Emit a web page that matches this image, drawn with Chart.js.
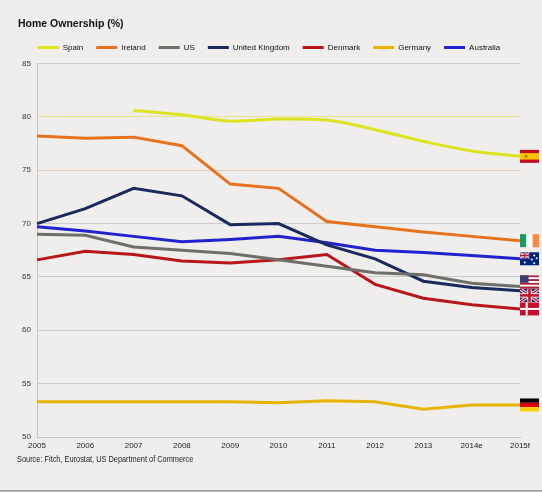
<!DOCTYPE html>
<html>
<head>
<meta charset="utf-8">
<script src="https://cdn.jsdelivr.net/npm/chart.js@4/dist/chart.umd.min.js"></script>
<style>
  html, body { margin: 0; padding: 0; background: #efeeec; }
  #wrap { position: relative; width: 542px; height: 493px; }
</style>
</head>
<body>
<div id="wrap"><canvas id="c"></canvas></div>
<script>
// ---- data ----
const categories = ['2005','2006','2007','2008','2009','2010','2011','2012','2013','2014e','2015f'];
const seriesNames = ['Spain','Ireland','US','United Kingdom','Denmark','Germany','Australia'];
const spain     = [null, null, 80.6, 80.2, 79.6, 79.8, 79.7, 78.8, 77.7, 76.8, 76.3];
const ireland   = [78.2, 78.0, 78.1, 77.3, 73.7, 73.3, 70.2, 69.7, 69.2, 68.8, 68.4];
const us        = [69.0, 68.9, 67.8, 67.5, 67.2, 66.6, 66.0, 65.4, 65.2, 64.4, 64.1];
const uk        = [70.0, 71.4, 73.3, 72.6, 69.9, 70.0, 68.0, 66.7, 64.6, 64.0, 63.7];
const denmark   = [66.6, 67.4, 67.1, 66.5, 66.3, 66.6, 67.1, 64.3, 63.0, 62.4, 62.0];
const germany   = [53.3, 53.3, 53.3, 53.3, 53.3, 53.2, 53.4, 53.3, 52.6, 53.0, 53.0];
const australia = [69.7, 69.3, 68.8, 68.3, 68.5, 68.8, 68.2, 67.5, 67.3, 67.0, 66.7];
const yTicks = [50, 55, 60, 65, 70, 75, 80, 85];
const titleText = 'Home Ownership (%)';
const sourceText = 'Source: Fitch, Eurostat, US Department of Commerce';

// ---- styles ----
const FONT = "'Liberation Sans', Arial, Helvetica, sans-serif";
const colors = ['#dde31c', '#e8711c', '#6e6e6a', '#1b2a5c', '#b8161b', '#e8b400', '#2222d0'];
const flagKinds = ['es', 'ie', 'us', 'gb', 'dk', 'de', 'au'];
const seriesData = [spain, ireland, us, uk, denmark, germany, australia];

function drawFlag(ctx, kind, x, y, w, h) {
  ctx.save();
  const r = (c, a, b, cw, ch) => { ctx.fillStyle = c; ctx.fillRect(a, b, cw, ch); };
  if (kind === 'es') {
    r('#c60b1e', x, y, w, h);
    r('#ffc400', x, y + h / 4, w, h / 2);
    r('#b5651d', x + w * 0.25, y + h * 0.4, 2.5, 2.5);
  } else if (kind === 'ie') {
    r('#169b62', x, y, w / 3, h);
    r('#ffffff', x + w / 3, y, w / 3, h);
    r('#ff883e', x + 2 * w / 3, y, w / 3, h);
  } else if (kind === 'de') {
    r('#000000', x, y, w, h / 3);
    r('#dd0000', x, y + h / 3, w, h / 3);
    r('#ffce00', x, y + 2 * h / 3, w, h / 3);
  } else if (kind === 'dk') {
    r('#c8102e', x, y, w, h);
    r('#ffffff', x + w * 0.3, y, 2, h);
    r('#ffffff', x, y + h / 2 - 1, w, 2);
  } else if (kind === 'us') {
    for (let i = 0; i < 7; i++) r(i % 2 ? '#ffffff' : '#b22234', x, y + i * h / 7, w, h / 7 + 0.3);
    r('#3c3b6e', x, y, w * 0.45, h * 4 / 7);
  } else if (kind === 'gb' || kind === 'au') {
    const uw = kind === 'gb' ? w : w / 2, uh = kind === 'gb' ? h : h / 2;
    r(kind === 'gb' ? '#012169' : '#00247d', x, y, w, h);
    ctx.save();
    ctx.beginPath(); ctx.rect(x, y, uw, uh); ctx.clip();
    ctx.strokeStyle = '#ffffff'; ctx.lineWidth = uh / 4;
    ctx.beginPath(); ctx.moveTo(x, y); ctx.lineTo(x + uw, y + uh); ctx.moveTo(x + uw, y); ctx.lineTo(x, y + uh); ctx.stroke();
    ctx.strokeStyle = '#c8102e'; ctx.lineWidth = uh / 9;
    ctx.stroke();
    r('#ffffff', x + uw / 2 - uh / 6, y, uh / 3, uh);
    r('#ffffff', x, y + uh / 2 - uh / 6, uw, uh / 3);
    r('#c8102e', x + uw / 2 - uh / 10, y, uh / 5, uh);
    r('#c8102e', x, y + uh / 2 - uh / 10, uw, uh / 5);
    ctx.restore();
    if (kind === 'au') {
      ctx.fillStyle = '#ffffff';
      [[0.25, 0.78], [0.75, 0.25], [0.62, 0.55], [0.88, 0.45], [0.75, 0.85]].forEach(p => {
        ctx.beginPath(); ctx.arc(x + p[0] * w, y + p[1] * h, 1, 0, Math.PI * 2); ctx.fill();
      });
    }
  }
  ctx.restore();
}

const decorPlugin = {
  id: 'decor',
  beforeLayout(chart) {
    const lg = chart.legend;
    if (lg && !lg._patched) {
      const orig = lg.fit;
      lg.fit = function () { orig.call(this); this.height += 2; };
      lg._patched = true;
    }
  },
  afterDatasetsDraw(chart) {
    const ctx = chart.ctx;
    const ys = chart.scales.y, xs = chart.scales.x;
    const last = categories.length - 1;
    const fw = 19, fh = 13, gap = 13.5;
    let items = seriesData.map((d, i) => ({ kind: flagKinds[i], y: ys.getPixelForValue(d[last]) }));
    items.sort((a, b) => a.y - b.y);
    for (let it = 0; it < 30; it++) {
      for (let i = 0; i < items.length - 1; i++) {
        const d = items[i + 1].y - items[i].y;
        if (d < gap) { const m = (gap - d) / 2; items[i].y -= m; items[i + 1].y += m; }
      }
    }
    const px = xs.getPixelForValue(last);
    items.forEach(it => drawFlag(ctx, it.kind, px, it.y - fh / 2, fw, fh));
  },
  afterDraw(chart) {
    const ctx = chart.ctx;
    ctx.save();
    ctx.fillStyle = '#111111';
    ctx.textBaseline = 'middle';
    ctx.textAlign = 'left';
    ctx.font = "bold 10.5px " + FONT;
    ctx.fillText(titleText, 18, 24);
    ctx.fillStyle = '#222222';
    ctx.font = "9px " + FONT;
    ctx.translate(17, 460);
    ctx.scale(0.82, 1);
    ctx.fillText(sourceText, 0, 0);
    ctx.restore();
    ctx.save();
    ctx.fillStyle = '#9a9a9a';
    ctx.fillRect(0, 490, chart.width, 1.5);
    ctx.restore();
  }
};

const datasets = seriesNames.map((name, i) => ({
  label: name,
  data: seriesData[i],
  borderColor: colors[i],
  backgroundColor: colors[i],
  borderWidth: 3,
  pointRadius: 0,
  tension: i === 0 ? 0.3 : 0,
  fill: false
}));

new Chart(document.getElementById('c'), {
  type: 'line',
  data: { labels: categories, datasets },
  plugins: [decorPlugin],
  options: {
    responsive: true,
    maintainAspectRatio: false,
    animation: false,
    layout: { padding: { left: 18, right: 22, top: 30.5, bottom: 40 } },
    plugins: {
      title: { display: false },
      tooltip: { enabled: false },
      legend: {
        position: 'top',
        align: 'center',
        labels: {
          boxWidth: 21,
          boxHeight: 3,
          padding: 13,
          color: '#111111',
          font: { family: FONT, size: 8 },
          generateLabels(chart) {
            return Chart.defaults.plugins.legend.labels.generateLabels(chart).map(l => {
              l.fillStyle = l.strokeStyle; l.lineWidth = 0; return l;
            });
          }
        }
      }
    },
    scales: {
      x: {
        type: 'category',
        offset: false,
        grid: { display: false, drawTicks: false },
        border: { display: true, color: '#c4c4c4', width: 1 },
        ticks: { color: '#222222', font: { family: FONT, size: 8 }, padding: 4, maxRotation: 0, autoSkip: false },
        afterFit(s) { s.height = 16; s.paddingLeft = 0; s.paddingRight = 0; }
      },
      y: {
        min: 50, max: 85,
        afterBuildTicks(s) { s.ticks = yTicks.map(v => ({ value: v })); },
        grid: {
          drawTicks: false,
          color(c) {
            const v = c.tick && c.tick.value;
            if (v === 80) return '#e4e48e';
            if (v === 75) return '#e6cbb6';
            return '#cdcdcd';
          },
          lineWidth: 1
        },
        border: { display: true, color: '#c4c4c4', width: 1 },
        ticks: { color: '#333333', font: { family: FONT, size: 8 }, padding: 6 },
        afterFit(s) { s.width = 19; s.paddingTop = 0; s.paddingBottom = 0; }
      }
    }
  }
});
</script>
</body>
</html>
